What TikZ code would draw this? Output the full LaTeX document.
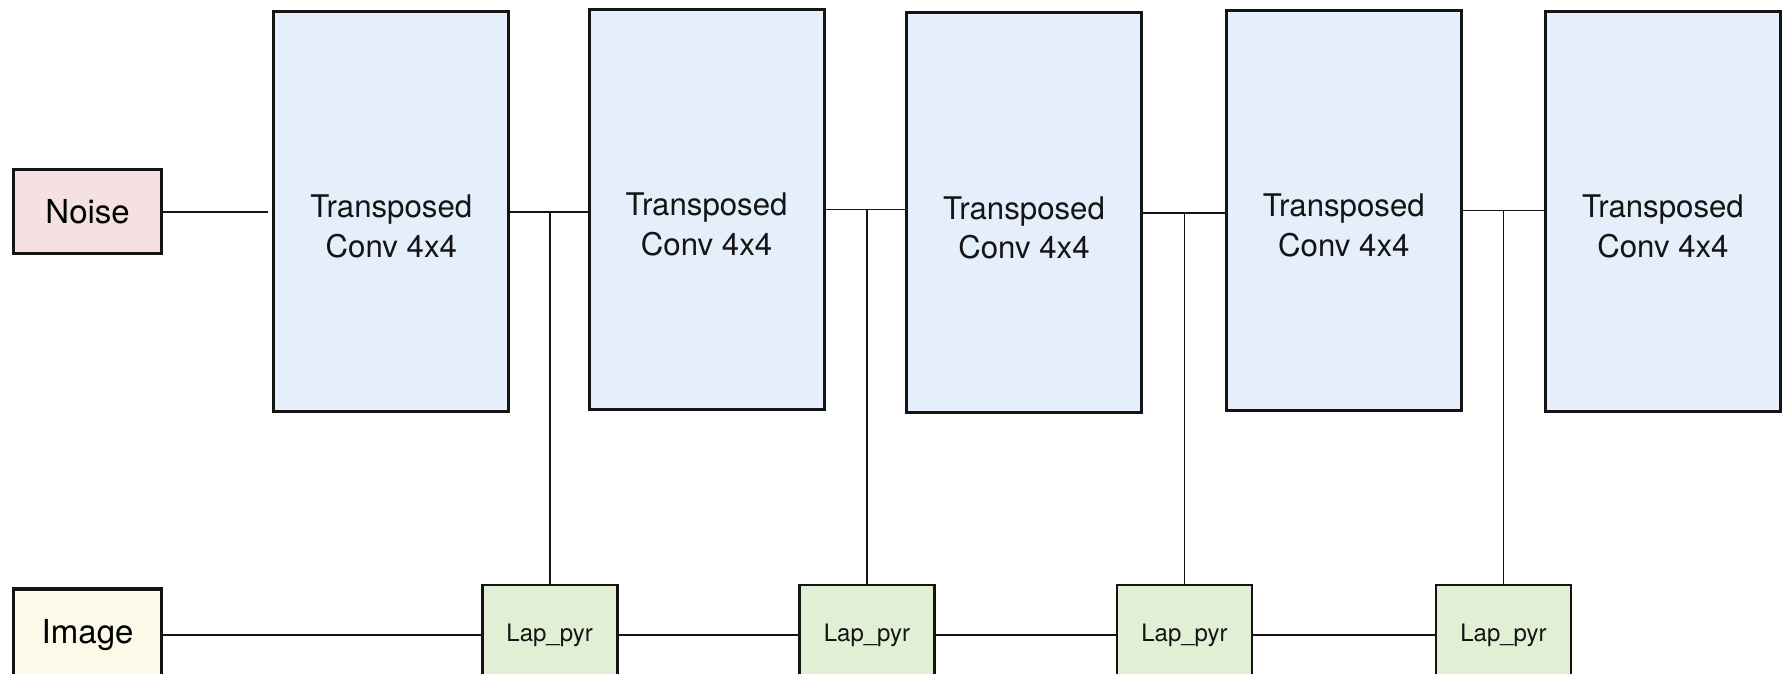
\documentclass[tikz,border=0pt]{standalone}
\usepackage{fontspec}
\setmainfont{TeX Gyre Heros}
\definecolor{noisefill}{RGB}{245,225,226}
\definecolor{imgfill}{RGB}{251,249,232}
\definecolor{convfill}{RGB}{229,239,252}
\definecolor{lapfill}{RGB}{225,240,212}
\definecolor{ink}{RGB}{20,20,20}
\tikzset{
  inbox/.style={draw=ink, line width=1.6pt, minimum width=74pt, minimum height=42pt,
    inner sep=0pt, font=\fontsize{16.5}{19}\selectfont},
  convbox/.style={draw=ink, line width=1.6pt, fill=convfill, minimum width=117.5pt,
    minimum height=200pt, inner sep=0pt},
  convtext/.style={align=center, inner sep=0pt, text=ink,
    font=\fontsize{15.6}{19.8}\selectfont},
  lapbox/.style={draw=ink, line width=1.4pt, fill=lapfill, minimum width=67.5pt,
    minimum height=50pt, inner sep=0pt, text=ink, font=\fontsize{12}{14}\selectfont},
  link/.style={draw=ink, line width=0.9pt},
}
\begin{document}
\begin{tikzpicture}[x=0.5pt, y=-0.5pt]
  \useasboundingbox (0,0) rectangle (1784,674);

  % inputs
  \node[inbox, fill=noisefill] (noise) at (87.6,211.6) {Noise};
  \node[inbox, fill=imgfill, minimum height=46pt] (img) at (87.6,635) {Image};

  % generator stages
  \node[convbox] (c1) at (391.3,211.6) {};
  \node[convbox] (c2) at (706.6,209.4) {};
  \node[convbox] (c3) at (1024.0,212.8) {};
  \node[convbox] (c4) at (1343.8,210.5) {};
  \node[convbox] (c5) at (1662.9,211.6) {};
  \foreach \i in {1,...,5}
    \node[convtext] (t\i) at ([yshift=-7.5pt]c\i.center) {Transposed\\Conv 4x4};

  % Laplacian pyramid levels
  \node[lapbox] (l1) at (549.6,635) {Lap\_pyr};
  \node[lapbox] (l2) at (867.0,635) {Lap\_pyr};
  \node[lapbox] (l3) at (1184.5,635) {Lap\_pyr};
  \node[lapbox] (l4) at (1503.5,635) {Lap\_pyr};

  % noise into the first stage
  \coordinate (nend) at ([xshift=-2pt]noise.east -| c1.west);
  \draw[link] (noise.east) -- (nend);

  % stage to stage, with the pyramid level joining in between
  \draw[link] (c1.east) -- (c1.east -| c2.west);
  \draw[link] (c2.east) -- (c2.east -| c3.west);
  \draw[link] (c3.east) -- (c3.east -| c4.west);
  \draw[link] (c4.east) -- (c4.east -| c5.west);
  \draw[link] (l1.north) -- (l1.north |- c1.east);
  \draw[link] (l2.north) -- (l2.north |- c2.east);
  \draw[link] (l3.north) -- (l3.north |- c3.east);
  \draw[link] (l4.north) -- (l4.north |- c4.east);

  % image through the pyramid
  \draw[link] (img.east) -- (l1.west);
  \draw[link] (l1.east) -- (l2.west);
  \draw[link] (l2.east) -- (l3.west);
  \draw[link] (l3.east) -- (l4.west);
\end{tikzpicture}
\end{document}
